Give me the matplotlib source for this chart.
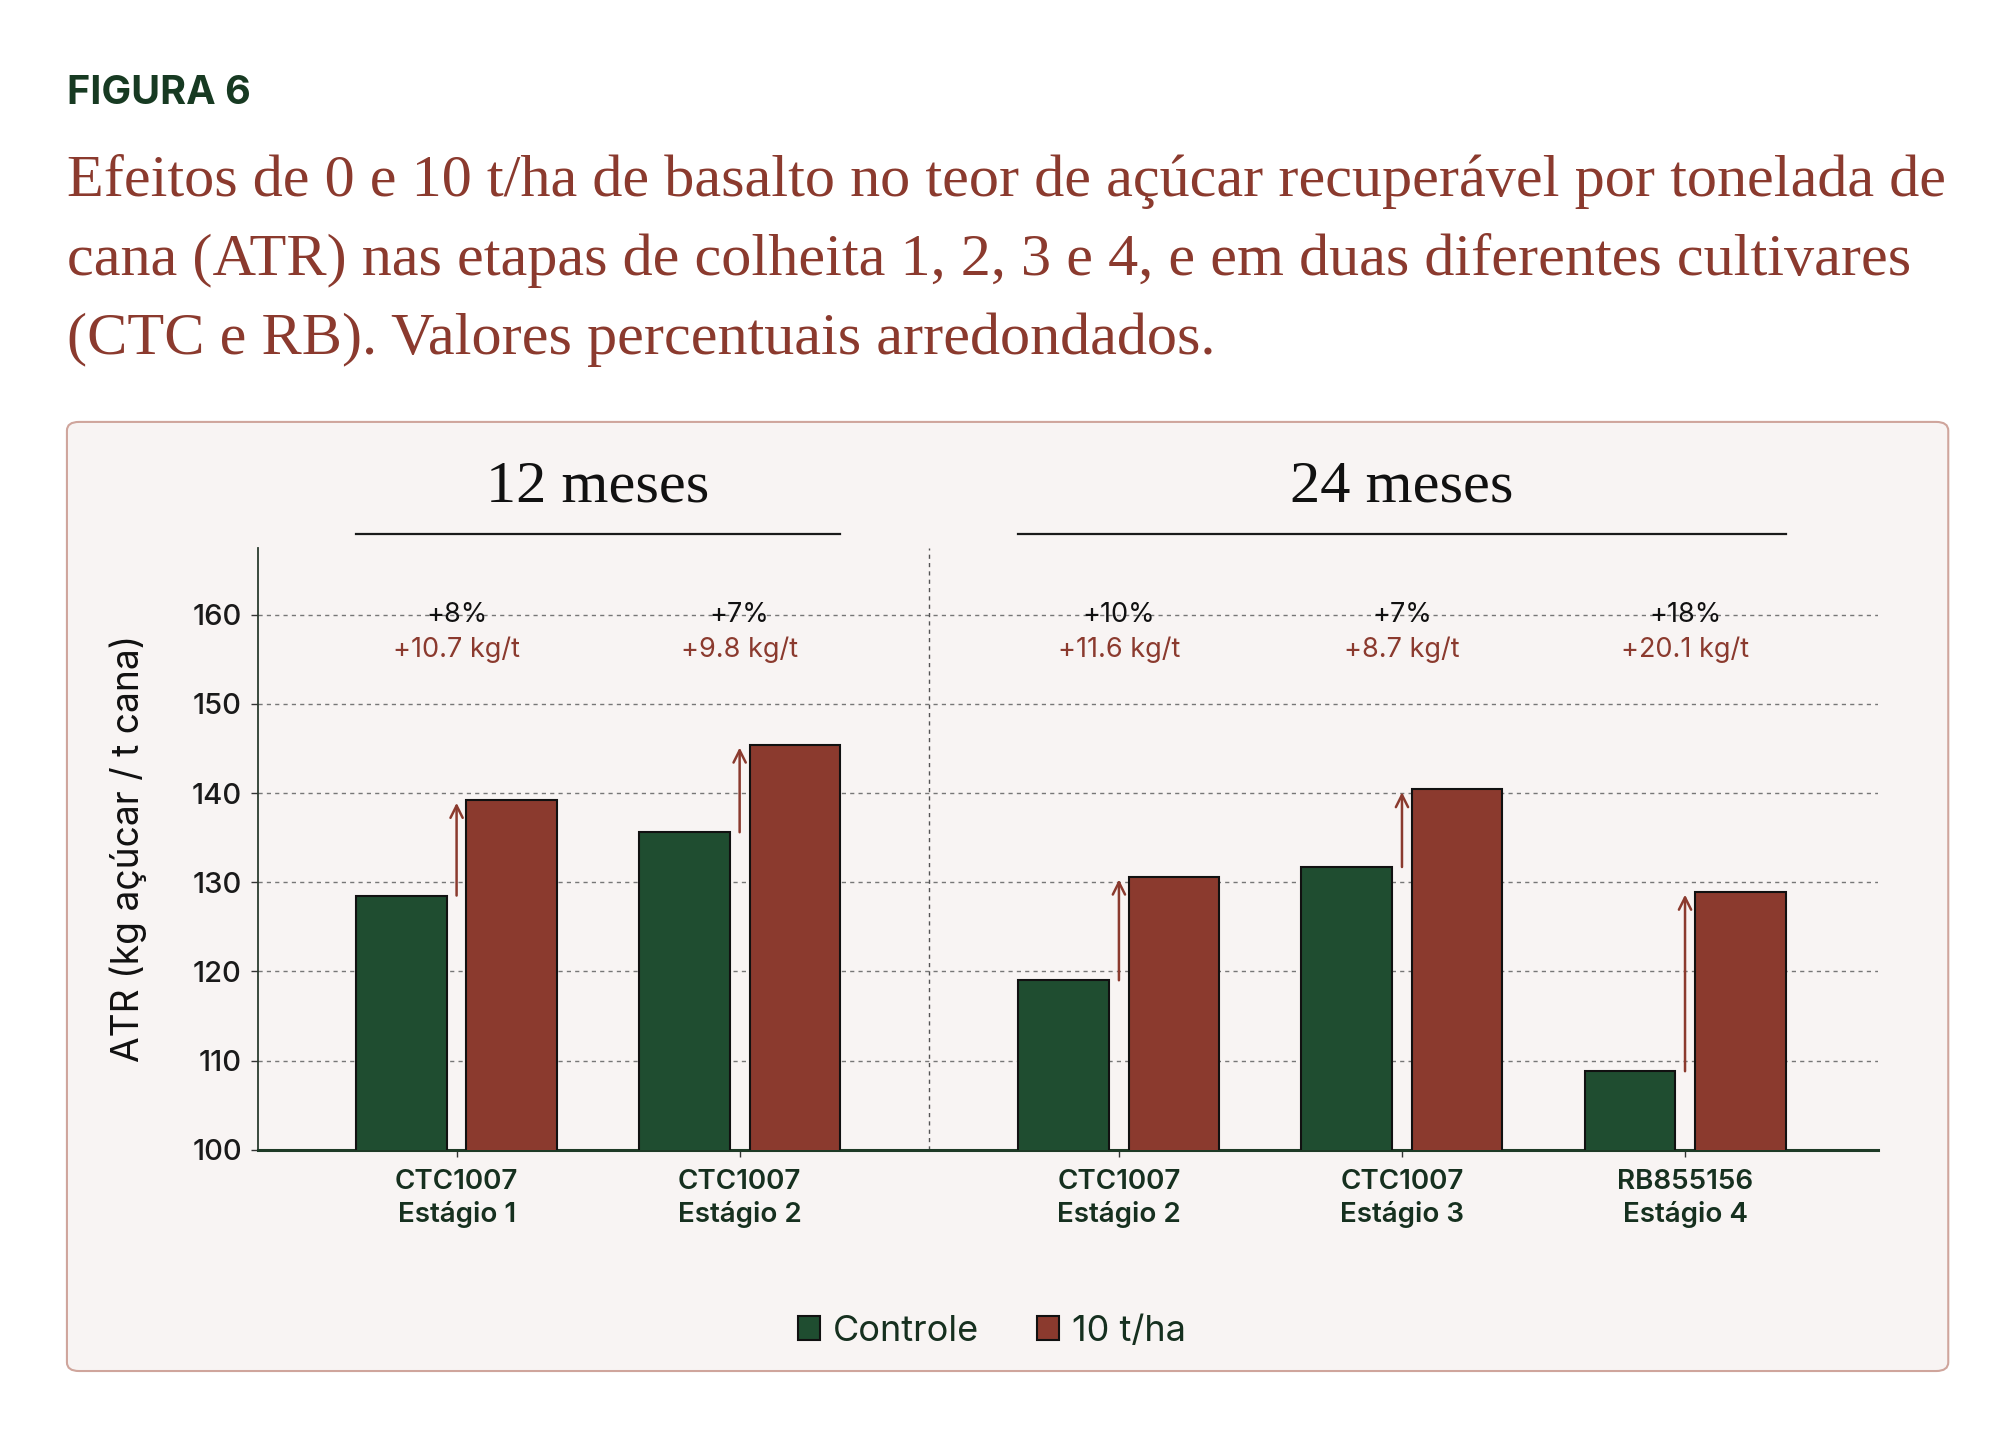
import numpy as np
import matplotlib.pyplot as plt
import matplotlib.transforms as mtransforms
from matplotlib.patches import FancyBboxPatch, Patch

# dados
cultivares = ["CTC1007", "CTC1007", "CTC1007", "CTC1007", "RB855156"]
estagios = ["Estágio 1", "Estágio 2", "Estágio 2", "Estágio 3", "Estágio 4"]
periodo = [0, 0, 1, 1, 1]
periodos = ["12 meses", "24 meses"]
controle = [128.5, 135.6, 119.0, 131.7, 108.8]
basalto = [139.2, 145.4, 130.6, 140.4, 128.9]
ganho_pct = ["+8%", "+7%", "+10%", "+7%", "+18%"]
ganho_kg = ["+10.7 kg/t", "+9.8 kg/t", "+11.6 kg/t", "+8.7 kg/t", "+20.1 kg/t"]
yticks = [100, 110, 120, 130, 140, 150, 160]
titulo = [
    "Efeitos de 0 e 10 t/ha de basalto no teor de açúcar recuperável por tonelada de",
    "cana (ATR) nas etapas de colheita 1, 2, 3 e 4, e em duas diferentes cultivares",
    "(CTC e RB). Valores percentuais arredondados.",
]

VERDE = "#1f4d30"
VERMELHO = "#8b3a2e"
VERDE_ESCURO = "#16301f"
FUNDO = "#f8f4f3"

SANS = ["Inter", "DejaVu Sans"]
SERIF = ["Liberation Serif", "DejaVu Serif"]

fig = plt.figure(figsize=(20.16, 14.4), dpi=100)
fig.patch.set_facecolor("white")

# painel de fundo
painel = FancyBboxPatch(
    (0.0332, 0.0479), 0.9332, 0.6591,
    boxstyle="round,pad=0,rounding_size=0.006",
    transform=fig.transFigure,
    facecolor=FUNDO,
    edgecolor="#cfa59c",
    linewidth=1.5,
    zorder=-5,
)
fig.patches.append(painel)

# titulo
fig.text(0.0332, 0.935, "FIGURA 6", family=SANS, fontweight="bold",
         fontsize=28.5, color="#173a22", va="center", ha="left")
for k, linha in enumerate(titulo):
    fig.text(0.0332, 1 - (196 + 79 * k) / 1440, linha, family=SERIF,
             fontsize=43.4, color=VERMELHO, va="baseline", ha="left")

ax = fig.add_axes([0.1282, 0.2016, 0.8031, 0.418])
ax.set_facecolor("none")

x = np.arange(len(controle)) + 0.34 * np.array(periodo)
w = 0.32
off = 0.195

ax.bar(x - off, controle, w, color=VERDE, edgecolor="#111111", linewidth=1.5, zorder=3)
ax.bar(x + off, basalto, w, color=VERMELHO, edgecolor="#111111", linewidth=1.5, zorder=3)

# setas e anotacoes
for i in range(len(x)):
    ax.annotate("", xy=(x[i], basalto[i] - 0.3), xytext=(x[i], controle[i]),
                arrowprops=dict(arrowstyle="->", color=VERMELHO, lw=1.8,
                                mutation_scale=22, shrinkA=0, shrinkB=0),
                zorder=4)
    ax.text(x[i], 160, ganho_pct[i], ha="center", va="center", family=SANS,
            fontsize=19.5, color="#111111", zorder=4)
    ax.text(x[i], 156.1, ganho_kg[i], ha="center", va="center", family=SANS,
            fontsize=19.5, color=VERMELHO, zorder=4)

# divisao entre periodos
xdiv = (x[1] + x[2]) / 2
ax.axvline(xdiv, color="#555555", lw=1.0, ls=(0, (3, 3)), zorder=2)

# cabecalhos dos periodos
trans = mtransforms.blended_transform_factory(ax.transData, ax.transAxes)
for p, nome in enumerate(periodos):
    idx = [i for i in range(len(x)) if periodo[i] == p]
    x0 = x[idx[0]] - off - w / 2
    x1 = x[idx[-1]] + off + w / 2
    ax.plot([x0, x1], [1.023, 1.023], transform=trans, color="#1a1a1a",
            lw=1.6, clip_on=False)
    ax.text((x0 + x1) / 2, 1.1, nome, transform=trans, ha="center",
            va="center", family=SERIF, fontsize=43.5, color="#111111")

ax.set_xlim(-0.70, 5.02)
ax.set_ylim(100, 167.5)
ax.set_yticks(yticks)
ax.set_yticklabels([str(v) for v in yticks], family=SANS, fontsize=21,
                   fontweight="medium", color="#1a1a1a")
ax.set_xticks(x)
ax.set_xticklabels([f"{c}\n{e}" for c, e in zip(cultivares, estagios)],
                   family=SANS, fontsize=20, fontweight="semibold",
                   color=VERDE_ESCURO, linespacing=1.3)
ax.tick_params(axis="x", length=5, width=1, color="#333333", pad=9)
ax.tick_params(axis="y", length=5, width=1, color="#333333", pad=7)

ax.grid(axis="y", color="#777777", lw=1.0, ls=(0, (3, 3)), zorder=1)
ax.set_axisbelow(True)
for s in ["top", "right"]:
    ax.spines[s].set_visible(False)
ax.spines["left"].set_color("#2b3b2e")
ax.spines["left"].set_linewidth(1.3)
ax.spines["bottom"].set_color("#1e3a26")
ax.spines["bottom"].set_linewidth(2.2)

ax.set_ylabel("ATR (kg açúcar / t cana)", family=SANS, fontsize=26.8,
              color="#111111", labelpad=32)

# legenda
handles = [Patch(facecolor=VERDE, edgecolor="#111111", lw=1.5, label="Controle"),
           Patch(facecolor=VERMELHO, edgecolor="#111111", lw=1.5, label="10 t/ha")]
leg = fig.legend(handles=handles, loc="center", bbox_to_anchor=(0.492, 0.0755),
                 ncol=2, frameon=False, handlelength=0.62, handleheight=0.62,
                 handletextpad=0.35, columnspacing=1.6,
                 prop=dict(family=SANS, size=26))
for t in leg.get_texts():
    t.set_color(VERDE_ESCURO)

fig.savefig("out.png", dpi=100, facecolor="white")
